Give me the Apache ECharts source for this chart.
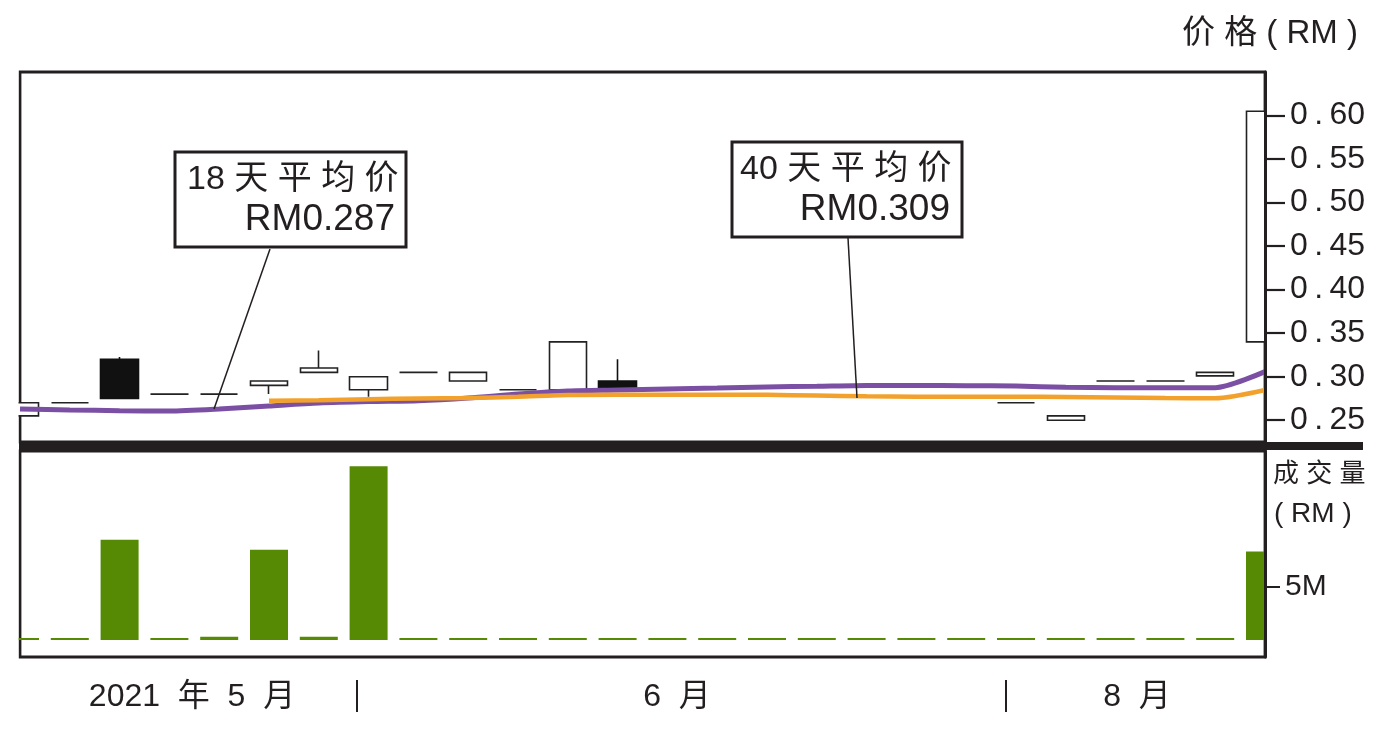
<!DOCTYPE html>
<html>
<head>
<meta charset="utf-8">
<script src="https://cdn.jsdelivr.net/npm/echarts@6/dist/echarts.min.js"></script>
<style>
html,body{margin:0;padding:0;background:#fff;}
#c{width:1388px;height:734px;}
</style>
</head>
<body>
<div id="c"></div>
<script>
// ---- data ----
const days = ['d1','d2','d3','d4','d5','d6','d7','d8','d9','d10','d11','d12','d13','d14','d15','d16','d17','d18','d19','d20','d21','d22','d23','d24','d25','d26'];
// candle values
const openP  = [0.255,0.27,0.32,0.28,0.28,0.29,0.305,0.285,0.305,0.295,0.285,0.285,0.295,null,null,null,null,null,null,null,0.27,0.25,0.295,0.295,0.301,0.34];
const closeP = [0.27,0.27,0.275,0.28,0.28,0.295,0.31,0.30,0.305,0.305,0.285,0.34,0.285,null,null,null,null,null,null,null,0.27,0.255,0.295,0.295,0.305,0.605];
const lowP   = [0.255,0.27,0.275,0.28,0.28,0.28,0.305,0.277,0.305,0.295,0.285,0.285,0.285,null,null,null,null,null,null,null,0.27,0.25,0.295,0.295,0.301,0.34];
const highP  = [0.27,0.27,0.3225,0.28,0.28,0.295,0.33,0.30,0.305,0.305,0.285,0.34,0.32,null,null,null,null,null,null,null,0.27,0.255,0.295,0.295,0.305,0.605];
const maPurple = [0.2629,0.2618,0.2610,0.2606,0.2629,0.2664,0.2698,0.2715,0.2724,0.2755,0.2801,0.2836,0.2847,0.2859,0.2870,0.2882,0.2890,0.2899,0.2899,0.2896,0.2893,0.2878,0.2874,0.2874,0.2874,0.3058];
const maOrange = [null,null,null,null,null,0.2724,0.2729,0.2742,0.2751,0.2755,0.2770,0.2790,0.2793,0.2793,0.2793,0.2792,0.2784,0.2775,0.2770,0.2770,0.2770,0.2767,0.2761,0.2755,0.2752,0.2847];
const volume = [0.18,0.18,9.38,0.18,0.3,8.44,0.3,16.26,0.18,0.18,0.18,0.18,0.18,0.18,0.18,0.18,0.18,0.18,0.18,0.18,0.18,0.18,0.18,0.18,0.18,8.28];
const priceTicks = [0.25,0.30,0.35,0.40,0.45,0.50,0.55,0.60];
const volTicks = [5];
const label18 = ['18 天 平 均 价','RM0.287'];
const label40 = ['40 天 平 均 价','RM0.309'];
const monthLabels = ['2021  年  5  月','6  月','8  月'];
const priceTitle = '价 格 ( RM )';
const volTitle = ['成 交 量','( RM )'];

const candleData = days.map((d,i)=> openP[i]==null ? '-' : [openP[i],closeP[i],lowP[i],highP[i]]);

const INK = '#231f20';
const FONT = '"Liberation Sans","Noto Sans CJK SC",sans-serif';
const TS = '\u2009';

const chart = echarts.init(document.getElementById('c'), null, {renderer:'canvas'});

function txt(text, x, y, size, align, extra){
  return Object.assign({type:'text', z:100, style:{text:text, x:x, y:y, fill:INK,
    font: size+'px '+FONT, textAlign:align||'left', textVerticalAlign:'middle'}}, extra||{});
}
function cover(x,y,w,h){
  return {type:'rect', z:5, silent:true, shape:{x:x,y:y,width:w,height:h}, style:{fill:'#ffffff'}};
}

const option = {
  animation:false,
  backgroundColor:'#ffffff',
  grid:[
    {left:20, right:123, top:72, height:370, show:true, borderColor:INK, borderWidth:2.8, backgroundColor:'transparent'},
    {left:20, right:123, top:451, height:206, show:true, borderColor:INK, borderWidth:2.8, backgroundColor:'transparent'}
  ],
  xAxis:[
    {type:'category', gridIndex:0, data:days, boundaryGap:false, show:false},
    {type:'category', gridIndex:1, data:days, boundaryGap:false, show:false}
  ],
  yAxis:[
    {type:'value', gridIndex:0, position:'right', min:0.225, max:0.65, z:10, splitLine:{show:false},
     axisLine:{show:true, onZero:false, lineStyle:{color:INK, width:3}},
     axisTick:{show:true, inside:false, length:20, lineStyle:{color:INK, width:2.2}, customValues:priceTicks},
     axisLabel:{show:true, customValues:priceTicks, margin:25, color:INK, fontSize:32, fontFamily:FONT,
       formatter:v=>{const s=v.toFixed(2); return s[0]+TS+'.'+TS+s.slice(2);}}},
    {type:'value', gridIndex:1, position:'right', min:-1.6, max:17.7, z:10, splitLine:{show:false},
     axisLine:{show:true, onZero:false, lineStyle:{color:INK, width:3}},
     axisTick:{show:true, inside:false, length:15, lineStyle:{color:INK, width:2}, customValues:volTicks},
     axisLabel:{show:true, customValues:volTicks, margin:20, color:INK, fontSize:30, fontFamily:FONT,
       formatter:v=>v+'M'}}
  ],
  series:[
    {type:'candlestick', xAxisIndex:0, yAxisIndex:0, data:candleData, barWidth:38, clip:true, z:2,
     itemStyle:{color:'#ffffff', color0:'#111111', borderColor:'#222222', borderColor0:'#111111', borderColorDoji:'#222222', borderWidth:1.6}},
    {type:'line', xAxisIndex:0, yAxisIndex:0, data:maPurple, symbol:'none', smooth:0.25, z:3,
     lineStyle:{color:'#7b4fa3', width:5}},
    {type:'line', xAxisIndex:0, yAxisIndex:0, data:maOrange, symbol:'none', smooth:0.25, z:3,
     lineStyle:{color:'#f2a22c', width:4.5}},
    {type:'bar', xAxisIndex:1, yAxisIndex:1, data:volume, barWidth:38, clip:true,
     itemStyle:{color:'#568a05'}}
  ],
  graphic:[
    // clip overflow of edge marks outside the plot frame
    cover(0, 60, 18.5, 610),
    cover(1266.7, 60, 30, 382),
    cover(1266.7, 451, 30, 210),
    // separator band between panels
    {type:'rect', z:90, shape:{x:19, y:442, width:1344, height:8}, style:{fill:INK}},
    // titles
    txt(priceTitle, 1358, 34, 33, 'right'),
    txt(volTitle[0], 1273, 475, 26, 'left'),
    txt(volTitle[1], 1274, 514, 28, 'left'),
    // annotation 18
    {type:'line', z:95, shape:{x1:270, y1:249, x2:214, y2:409}, style:{stroke:INK, lineWidth:1.5}},
    {type:'rect', z:96, shape:{x:175, y:152, width:231, height:95}, style:{fill:'#fff', stroke:INK, lineWidth:3}},
    txt(label18[0], 187, 180, 34, 'left'),
    txt(label18[1], 395, 220, 37, 'right'),
    // annotation 40
    {type:'line', z:95, shape:{x1:848, y1:238, x2:857, y2:398}, style:{stroke:INK, lineWidth:1.5}},
    {type:'rect', z:96, shape:{x:732, y:142, width:230, height:95}, style:{fill:'#fff', stroke:INK, lineWidth:3}},
    txt(label40[0], 740, 170, 34, 'left'),
    txt(label40[1], 950, 210, 37, 'right'),
    // month labels
    txt(monthLabels[0], 192, 697, 32, 'center'),
    {type:'line', z:95, shape:{x1:357, y1:680, x2:357, y2:712}, style:{stroke:INK, lineWidth:2}},
    txt(monthLabels[1], 677, 697, 32, 'center'),
    {type:'line', z:95, shape:{x1:1006, y1:680, x2:1006, y2:712}, style:{stroke:INK, lineWidth:2}},
    txt(monthLabels[2], 1137, 697, 32, 'center')
  ]
};
chart.setOption(option);
</script>
</body>
</html>
